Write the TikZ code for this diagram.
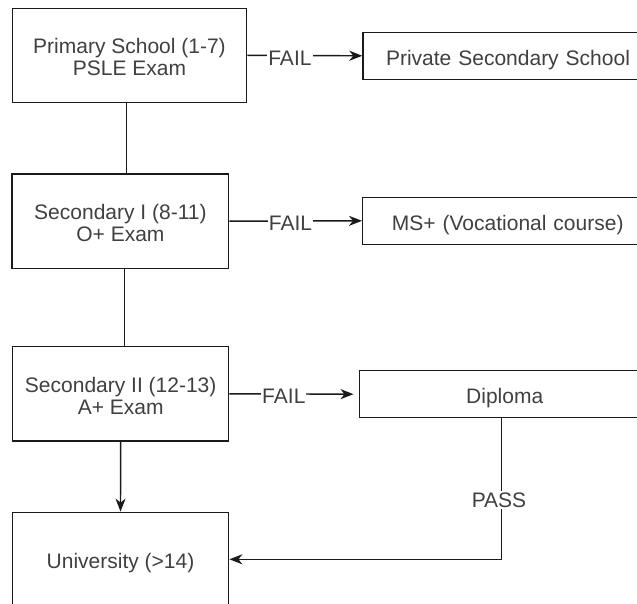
\documentclass[tikz,border=0pt]{standalone}
\usepackage{fontspec}
\setmainfont{Liberation Sans}
\usetikzlibrary{arrows.meta}
\definecolor{txt}{HTML}{404040}
\definecolor{ln}{HTML}{1A1A1A}
\newcommand\lowtext[1]{\raisebox{-5pt}[\height][\depth]{\begin{tabular}{@{}c@{}}#1\end{tabular}}}
\tikzset{
  box/.style={draw=ln, line width=1.4pt, fill=white, inner sep=0pt, text=txt,
    align=center, font=\fontsize{21}{22}\selectfont},
  lbl/.style={fill=white, inner sep=1pt, text=txt, font=\fontsize{21}{22}\selectfont},
  conn/.style={draw=ln, line width=1.4pt},
  arr/.style={conn, -{Stealth[length=13pt,width=10pt,inset=4pt]}}
}
\begin{document}
\begin{tikzpicture}[x=1pt,y=-1pt]
\useasboundingbox (0,0) rectangle (637,604);
\clip (0,0) rectangle (637,604);
\fill[white] (0,0) rectangle (637,604);
% left column
\node[box, minimum width=234.4pt, minimum height=94pt] (prim) at (129.5,55.3) {\lowtext{Primary School (1-7)\\PSLE Exam}};
\node[box, minimum width=216.7pt, minimum height=94.3pt] (sec1) at (120.4,221.2) {\lowtext{Secondary I (8-11)\\O+ Exam}};
\node[box, minimum width=216pt, minimum height=94.3pt] (sec2) at (120.7,393.8) {\lowtext{Secondary II (12-13)\\A+ Exam}};
\node[box, minimum width=216.4pt, minimum height=94pt] (uni) at (120.5,559.3) {\lowtext{University (>14)}};
% right column
\node[box, anchor=west, minimum width=290pt, minimum height=47pt, text width=282pt] (priv) at (362.3,55.8) {\lowtext{Private Secondary School}};
\node[box, anchor=west, minimum width=290pt, minimum height=47pt, text width=284pt] (ms) at (362,220.8) {\lowtext{MS+ (Vocational course)}};
\node[box, anchor=west, minimum width=290pt, minimum height=47pt, text width=278pt] (dip) at (359,394.2) {\lowtext{Diploma}};
% vertical connectors
\draw[conn] ([xshift=-3pt]prim.south) -- ([xshift=-3pt]prim.south |- sec1.north);
\draw[conn] ([xshift=4.3pt]sec1.south) -- ([xshift=4.3pt]sec1.south |- sec2.north);
\draw[arr] (sec2.south) -- (uni.north);
% FAIL connectors
\draw[arr] (prim.east) -- node[lbl, pos=0.37, yshift=-2.5pt] {FAIL} (priv.west);
\draw[arr] (sec1.east) -- node[lbl, pos=0.46, yshift=-2.5pt] {FAIL} (ms.west);
\draw[arr, shorten >=5.5pt] (sec2.east) -- node[lbl, pos=0.42, yshift=-2.5pt] {FAIL} (dip.west);
% PASS connector
\coordinate (corner) at (501.5,559.3);
\draw[arr] (dip.south -| corner) -- (corner) -- (uni.east);
\node[lbl, inner sep=2pt] (pass) at (499,500) {PASS};
\end{tikzpicture}
\end{document}
